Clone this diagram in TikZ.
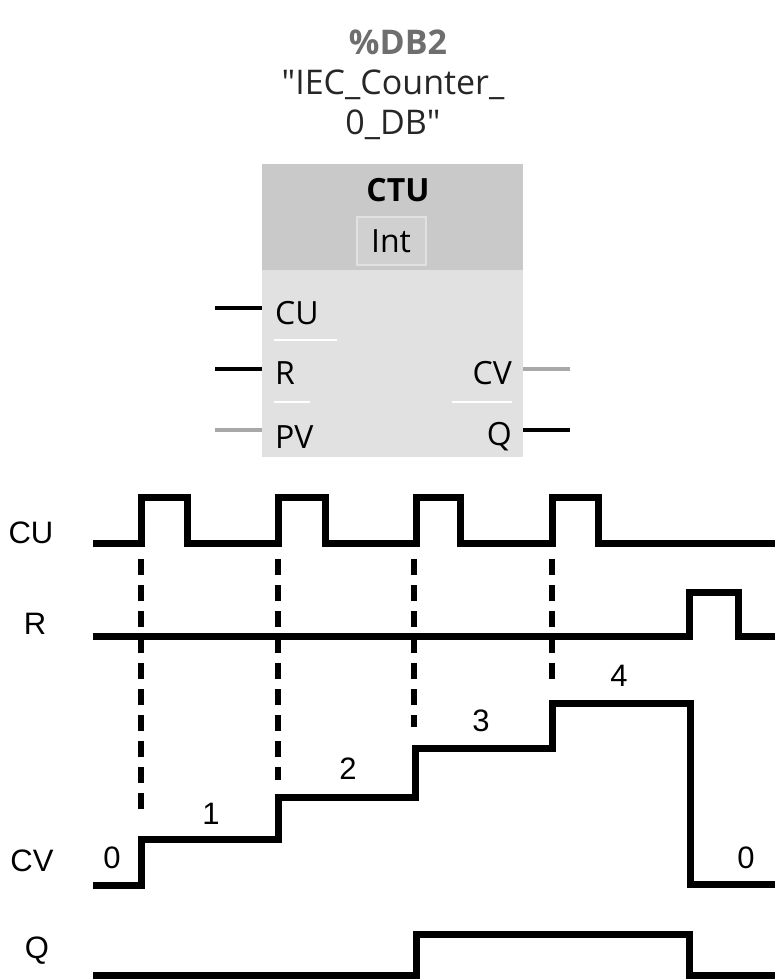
\documentclass[tikz,border=0pt]{standalone}
\usepackage{fontspec}
\setmainfont{Open Sans}[Ligatures=TeXOff]
\newfontfamily\arialfont{Liberation Sans}
\usepackage{tikz}
\usetikzlibrary{positioning}
\definecolor{headgrey}{HTML}{C9C9C9}
\definecolor{bodygrey}{HTML}{E1E1E1}
\definecolor{intgrey}{HTML}{D0D0D0}
\definecolor{wiregrey}{HTML}{A8A8A8}
\definecolor{titlegrey}{HTML}{6E6E6E}
\tikzset{
  blocktext/.style={inner sep=0pt, font=\fontsize{32}{40}\selectfont},
  pinlabel/.style={blocktext, anchor=west},
  pinlabelr/.style={blocktext, anchor=east},
  pin/.style={line width=4.5pt, black},
  greypin/.style={line width=4.5pt, wiregrey},
  underline/.style={line width=1.6pt, white},
  signame/.style={inner sep=0pt, font=\arialfont\fontsize{31}{31}\selectfont},
  value/.style={inner sep=0pt, font=\arialfont\fontsize{31}{31}\selectfont},
  wave/.style={line width=7pt, black},
  marker/.style={line width=5.5pt, black, dash pattern=on 16pt off 10pt},
}
\begin{document}
\begin{tikzpicture}[x=1pt, y=-1pt]
  \useasboundingbox (0,0) rectangle (775,979);

  % instance data block
  \node[blocktext, font=\bfseries\fontsize{34}{34}\selectfont, text=titlegrey] (dbnum) at (398,42) {\%DB2};
  \node[blocktext, font=\fontsize{34}{40}\selectfont, align=center, text=black!85] (dbname) at (393,105) {"IEC\_Counter\_\\0\_DB"};

  % CTU box
  \fill[headgrey] (262,164) rectangle (523,270);
  \fill[bodygrey] (262,270) rectangle (523,457);
  \node[blocktext, font=\bfseries\fontsize{32}{32}\selectfont] (ctu) at (398,190) {CTU};
  \node[draw=bodygrey, fill=intgrey, line width=2pt, minimum width=69pt, minimum height=48pt, inner sep=0pt] (type) at (391,241) {};
  \node[blocktext] at (type.center) {Int};

  \node[pinlabel] (cu) at (275,313) {CU};
  \node[pinlabel] (r) at (275,373) {R};
  \node[pinlabel] (pv) at (275,437) {PV};
  \node[pinlabelr] (cv) at (512,373) {CV};
  \node[pinlabelr] (q) at (512,437) {Q};

  \coordinate (cuin) at (215,308);
  \coordinate (rin) at (215,369);
  \coordinate (pvin) at (215,430);
  \coordinate (cvout) at (570,369);
  \coordinate (qout) at (570,430);
  \draw[pin] (cuin) -- (262,308);
  \draw[pin] (rin) -- (262,369);
  \draw[greypin] (pvin) -- (262,430);
  \draw[greypin] (523,369) -- (cvout);
  \draw[pin] (523,430) -- (qout);

  \draw[underline] (274,340) -- (337,340);
  \draw[underline] (274,402) -- (310,402);
  \draw[underline] (452,402) -- (512,402);

  % timing diagram
  \node[signame] (sigcu) at (31,533) {CU};
  \node[signame] (sigr) at (35,624) {R};
  \node[signame] (sigcv) at (32,861) {CV};
  \node[signame] (sigq) at (37,951) {Q};

  \draw[wave] (93,543) -- (141,543) -- (141,497) -- (187,497) -- (187,543)
    -- (278,543) -- (278,497) -- (325,497) -- (325,543)
    -- (416,543) -- (416,497) -- (460,497) -- (460,543)
    -- (552,543) -- (552,497) -- (598,497) -- (598,543) -- (775,543);
  \draw[wave] (93,636) -- (689,636) -- (689,592) -- (738,592) -- (738,636) -- (775,636);
  \draw[wave] (93,885) -- (141,885) -- (141,839) -- (278,839) -- (278,797)
    -- (415,797) -- (415,748) -- (552,748) -- (552,703) -- (690,703)
    -- (690,884) -- (775,884);
  \draw[wave] (93,975) -- (416,975) -- (416,934) -- (689,934) -- (689,975) -- (775,975);

  \draw[marker] (141,559) -- (141,809);
  \draw[marker] (278,559) -- (278,780);
  \draw[marker] (414,559) -- (414,727);
  \draw[marker] (552,559) -- (552,679);

  \node[value] (cv0) at (112,858) {0};
  \node[value] (cv1) at (211,814) {1};
  \node[value] (cv2) at (348,769) {2};
  \node[value] (cv3) at (481,721) {3};
  \node[value] (cv4) at (619,676) {4};
  \node[value] (cv5) at (746,858) {0};

\end{tikzpicture}
\end{document}
